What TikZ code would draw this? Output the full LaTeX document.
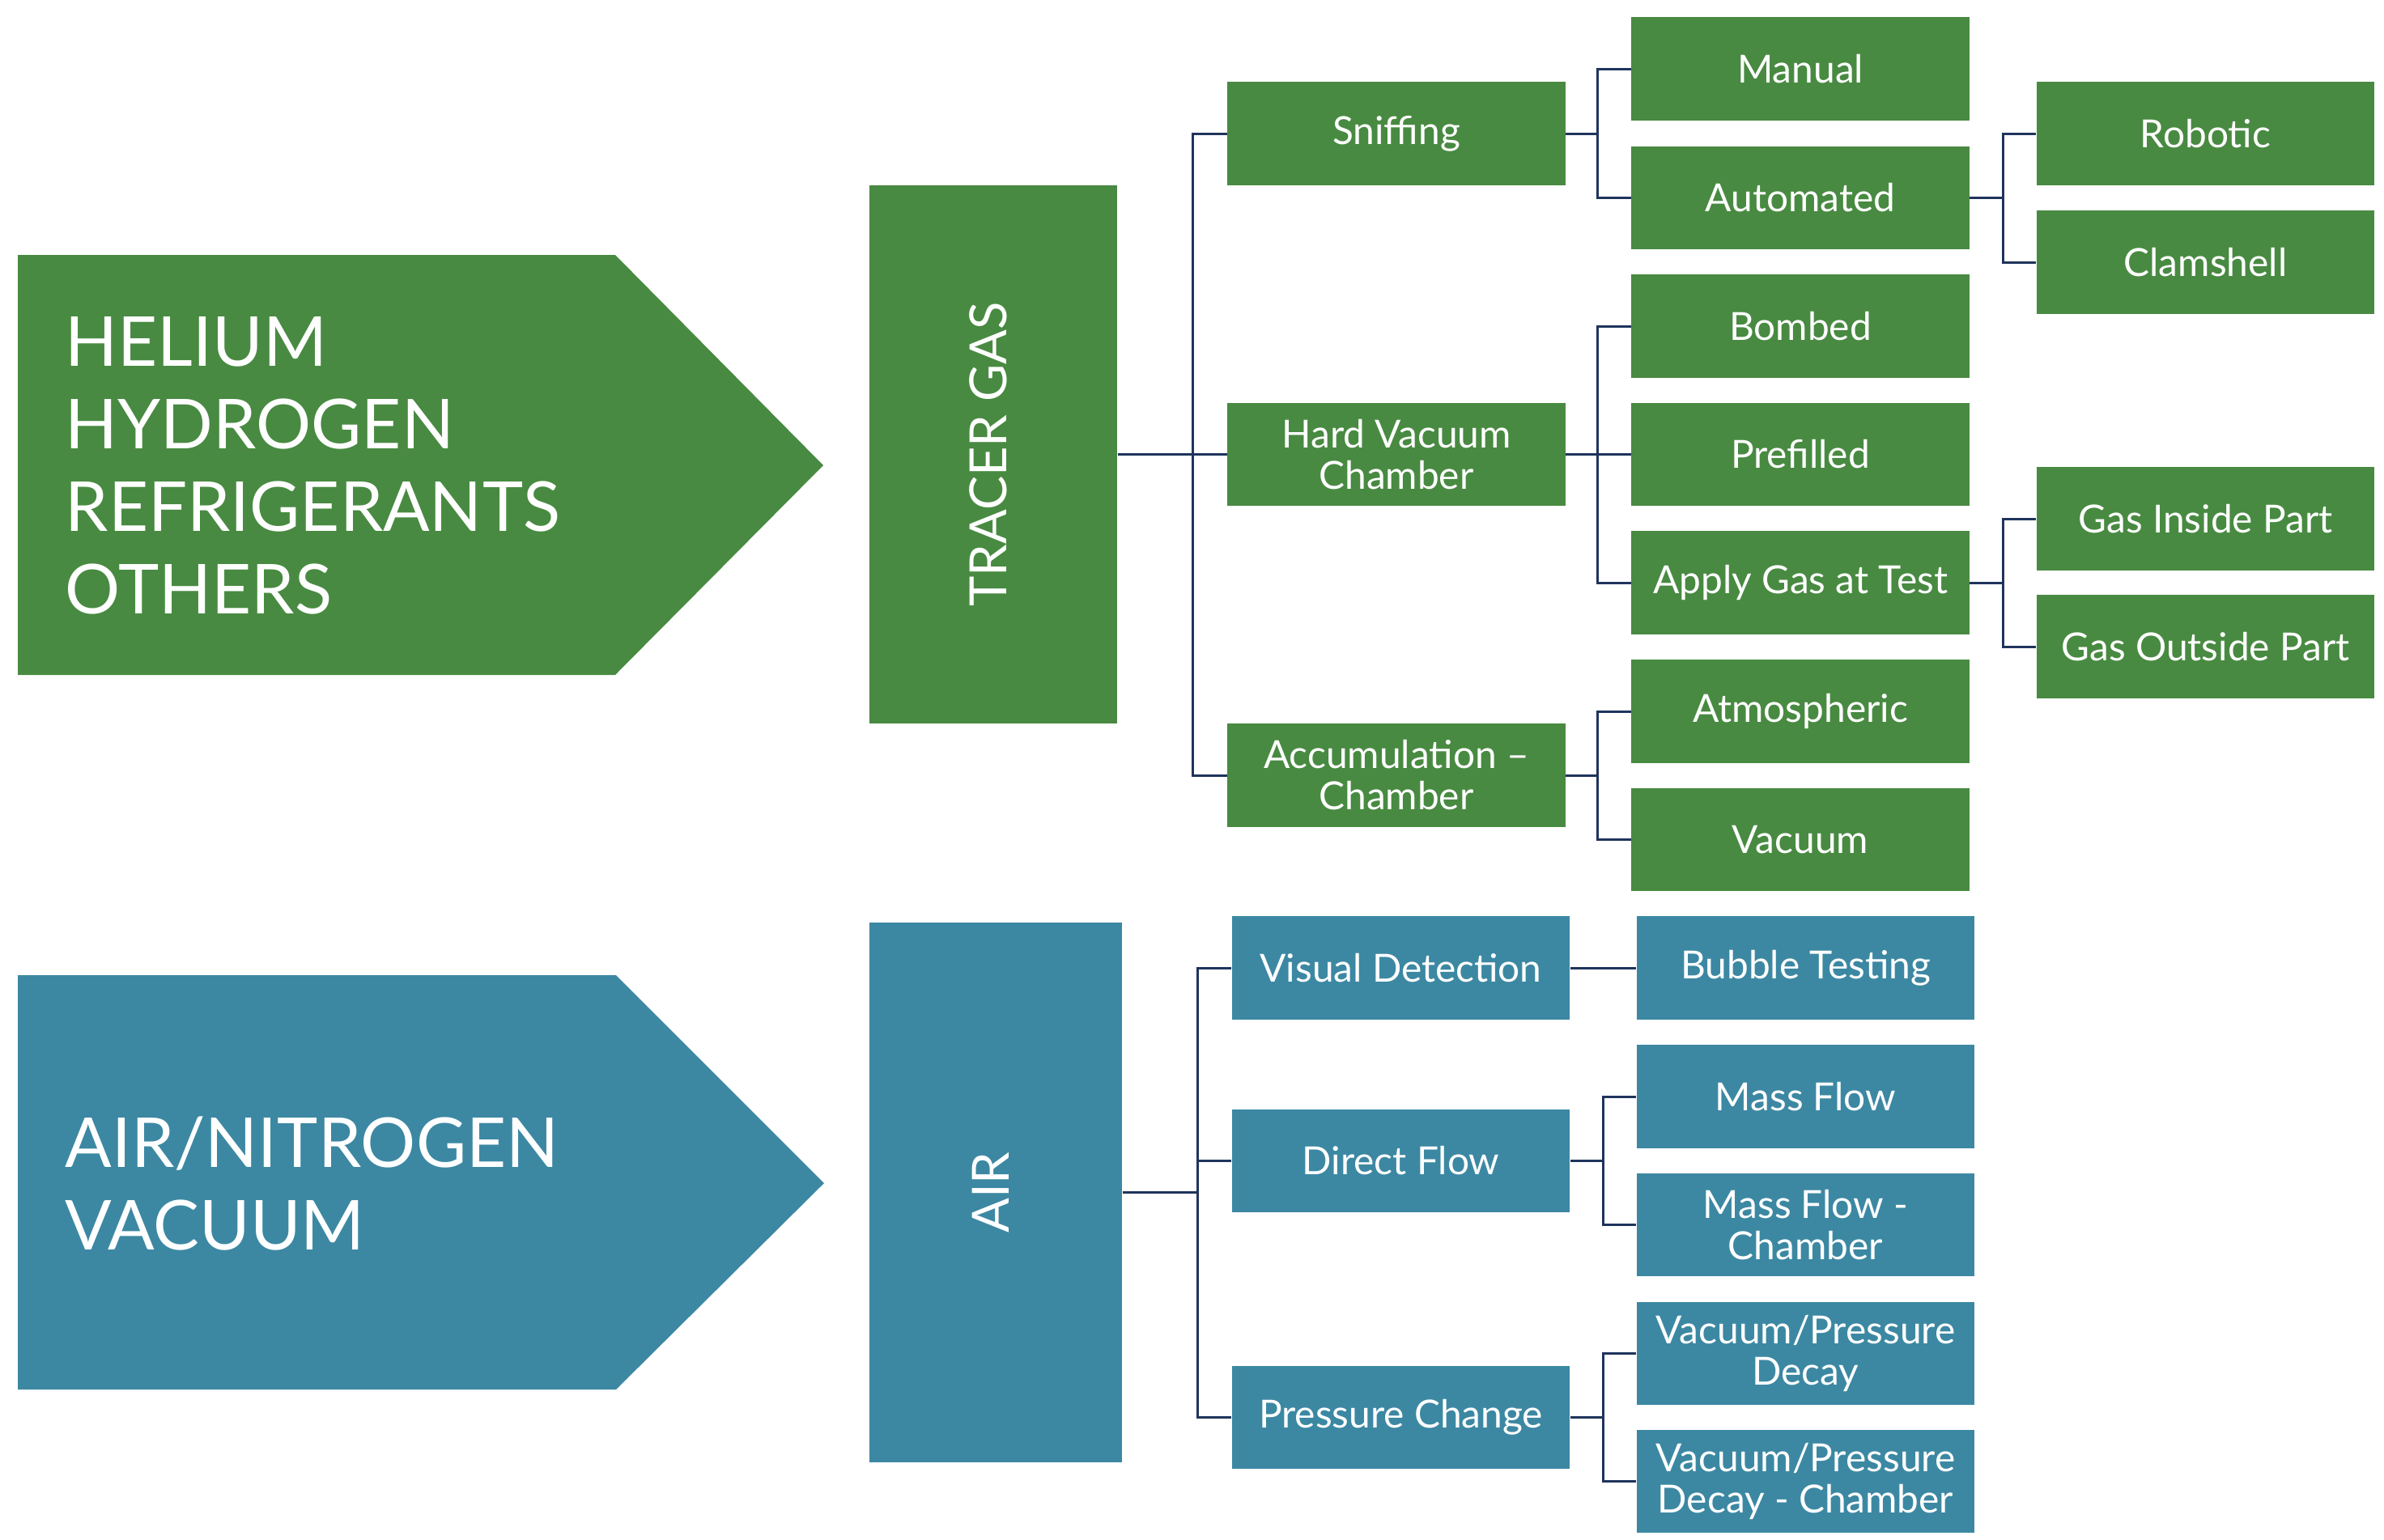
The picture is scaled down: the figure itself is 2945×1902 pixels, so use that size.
\documentclass[tikz,border=0pt]{standalone}
\usepackage{fontspec}
\setmainfont{Lato}
\usetikzlibrary{positioning}

\definecolor{leafgreen}{RGB}{72,138,65}
\definecolor{tealblue}{RGB}{60,136,163}
\definecolor{navyline}{RGB}{31,52,92}

\begin{document}
\begin{tikzpicture}[x=0.01cm,y=-0.01cm,
    catbox/.style={rectangle,fill=#1,text=white,minimum width=4.17cm,minimum height=1.27cm,
      inner sep=0pt,align=center,font=\fontsize{13.6}{14.5}\selectfont},
    groupbox/.style={rectangle,fill=#1,inner sep=0pt},
    grouplabel/.style={text=white,inner sep=0pt,rotate=90,font=\fontsize{18}{22}\selectfont},
    arrowtext/.style={text=white,inner sep=0pt,anchor=west,align=left,
      font=\fontsize{24.2}{29}\selectfont},
    tie/.style={draw=navyline,line width=0.85pt}]
    \useasboundingbox (0,0) rectangle (2945,1902);

    % gas arrows
    \fill[leafgreen] (22,315) -- (760,315) -- (1017,575) -- (760,834) -- (22,834) -- cycle;
    \node (gases) [arrowtext] at (80,575) {HELIUM\\HYDROGEN\\REFRIGERANTS\\OTHERS};
    \fill[tealblue] (22,1205) -- (761,1205) -- (1018,1462) -- (761,1717) -- (22,1717) -- cycle;
    \node (airgases) [arrowtext] at (80,1462) {AIR/NITROGEN\\VACUUM};

    % tracer gas
    \node (tracer) [groupbox=leafgreen,minimum width=3.06cm,minimum height=6.65cm] at (1227,561.5) {};
    \node (tracerlabel) [grouplabel] at ([xshift=-0.06cm]tracer.center) {TRACER GAS};
    \node (sniff) [catbox=leafgreen] at (1725,165) {Sniffing};
    \node (hvc) [catbox=leafgreen] at (1725,561.5) {Hard Vacuum\\Chamber};
    \node (accum) [catbox=leafgreen] at (1725,958) {Accumulation –\\Chamber};
    \node (manual) [catbox=leafgreen] at (2224,85) {Manual};
    \node (auto) [catbox=leafgreen] at (2224,244.5) {Automated};
    \node (bombed) [catbox=leafgreen] at (2224,403) {Bombed};
    \node (prefilled) [catbox=leafgreen] at (2224,561.5) {Prefilled};
    \node (applygas) [catbox=leafgreen] at (2224,720) {Apply Gas at Test};
    \node (atmos) [catbox=leafgreen] at (2224,879) {Atmospheric};
    \node (vacuum) [catbox=leafgreen] at (2224,1037.5) {Vacuum};
    \node (robotic) [catbox=leafgreen] at (2724.5,165) {Robotic};
    \node (clam) [catbox=leafgreen] at (2724.5,324) {Clamshell};
    \node (gasin) [catbox=leafgreen] at (2724.5,641) {Gas Inside Part};
    \node (gasout) [catbox=leafgreen] at (2724.5,799) {Gas Outside Part};

    % air
    \node (air) [groupbox=tealblue,minimum width=3.12cm,minimum height=6.67cm] at (1230,1473.5) {};
    \node (airlabel) [grouplabel] at ([xshift=-0.06cm]air.center) {AIR};
    \node (visual) [catbox=tealblue] at (1730.5,1196) {Visual Detection};
    \node (direct) [catbox=tealblue] at (1730.5,1434.5) {Direct Flow};
    \node (pressure) [catbox=tealblue] at (1730.5,1751.5) {Pressure Change};
    \node (bubble) [catbox=tealblue] at (2230.5,1196) {Bubble Testing};
    \node (massflow) [catbox=tealblue] at (2230.5,1355) {Mass Flow};
    \node (massflowch) [catbox=tealblue] at (2230.5,1513.5) {Mass Flow -\\Chamber};
    \node (vpd) [catbox=tealblue] at (2230.5,1672.5) {Vacuum/Pressure\\Decay};
    \node (vpdch) [catbox=tealblue] at (2230.5,1830.5) {Vacuum/Pressure\\Decay - Chamber};

    % connectors
    \draw[tie] (tracer.east) -- (hvc.west);
    \draw[tie] (sniff.west) -- ++(-42,0) |- (accum.west);
    \draw[tie] (prefilled.west) -- (hvc.east);
    \foreach \top/\bottom/\parent in {manual/auto/sniff,bombed/applygas/hvc,atmos/vacuum/accum,
        robotic/clam/auto,gasin/gasout/applygas,massflow/massflowch/direct,vpd/vpdch/pressure}
    {
      \draw[tie] (\top.west) -- ++(-41,0) |- (\bottom.west);
      \draw[tie] (\parent.east) -- ++(41,0);
    }
    \draw[tie] (air.east) -- ++(94,0);
    \draw[tie] (visual.west) -- ++(-42,0) |- (pressure.west);
    \draw[tie] (direct.west) -- ++(-42,0);
    \draw[tie] (visual.east) -- (bubble.west);
\end{tikzpicture}
\end{document}
